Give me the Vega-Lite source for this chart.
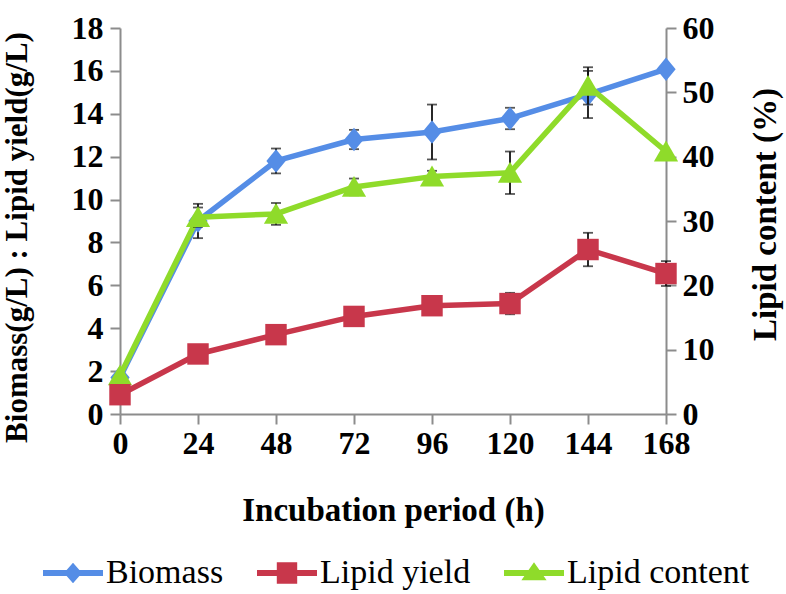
{
  "$schema": "https://vega.github.io/schema/vega-lite/v6.json",
  "width": 546,
  "height": 386,
  "autosize": {"type": "none"},
  "padding": {"left": 120, "top": 28, "right": 120, "bottom": 180},
  "background": "white",
  "data": {
    "values": [
      {"s": "Biomass", "t": 0, "v": 1.7, "err": null},
      {"s": "Biomass", "t": 24, "v": 9.0, "err": 0.8},
      {"s": "Biomass", "t": 48, "v": 11.8, "err": 0.58},
      {"s": "Biomass", "t": 72, "v": 12.8, "err": 0.45},
      {"s": "Biomass", "t": 96, "v": 13.15, "err": 1.28},
      {"s": "Biomass", "t": 120, "v": 13.78, "err": 0.5},
      {"s": "Biomass", "t": 144, "v": 14.9, "err": 1.1},
      {"s": "Biomass", "t": 168, "v": 16.08, "err": null},
      {"s": "Lipid yield", "t": 0, "v": 0.9, "err": null},
      {"s": "Lipid yield", "t": 24, "v": 2.8, "err": null},
      {"s": "Lipid yield", "t": 48, "v": 3.7, "err": null},
      {"s": "Lipid yield", "t": 72, "v": 4.55, "err": null},
      {"s": "Lipid yield", "t": 96, "v": 5.05, "err": 0.1},
      {"s": "Lipid yield", "t": 120, "v": 5.15, "err": 0.5},
      {"s": "Lipid yield", "t": 144, "v": 7.67, "err": 0.78},
      {"s": "Lipid yield", "t": 168, "v": 6.55, "err": 0.58},
      {"s": "Lipid content", "t": 0, "v": 6.0, "err": null},
      {"s": "Lipid content", "t": 24, "v": 30.6, "err": 1.5},
      {"s": "Lipid content", "t": 48, "v": 31.1, "err": 1.7},
      {"s": "Lipid content", "t": 72, "v": 35.3, "err": 1.3},
      {"s": "Lipid content", "t": 96, "v": 36.9, "err": 0.9},
      {"s": "Lipid content", "t": 120, "v": 37.5, "err": 3.3},
      {"s": "Lipid content", "t": 144, "v": 51.0, "err": 2.9},
      {"s": "Lipid content", "t": 168, "v": 40.8, "err": null}
    ]
  },
  "layer": [
    {
      "transform": [{"filter": "datum.s === 'Biomass'"}],
      "encoding": {
        "x": {"field": "t", "type": "quantitative", "scale": {"domain": [0, 168], "nice": false, "zero": false},
          "axis": {"title": "Incubation period (h)", "values": [0, 24, 48, 72, 96, 120, 144, 168], "labelPadding": 4, "labelFlush": false, "labelOverlap": false, "titleX": 273, "titleY": 96, "titleBaseline": "middle", "titleAlign": "center", "titleAngle": 0}},
        "y": {"field": "v", "type": "quantitative", "scale": {"domain": [0, 18], "nice": false},
          "axis": {"title": "Biomass(g/L) : Lipid yield(g/L)", "titleFontSize": 31, "orient": "left", "values": [0, 2, 4, 6, 8, 10, 12, 14, 16, 18], "labelPadding": 7, "labelFlush": false, "labelOverlap": false, "titleX": -103, "titleY": 209, "titleAngle": -90, "titleAlign": "center", "titleBaseline": "middle"}},
        "color": {"field": "s", "type": "nominal",
          "scale": {"domain": ["Biomass", "Lipid yield", "Lipid content"], "range": ["#558DE6", "#C8374B", "#8FDB2A"]},
          "legend": {"orient": "none", "legendX": -77, "legendY": 515, "direction": "horizontal", "title": null, "padding": 0, "symbolSize": 3600, "labelFont": "Liberation Serif", "labelFontSize": 34, "labelFontWeight": "normal", "labelColor": "#000000", "labelOffset": 3, "columnPadding": 33, "labelLimit": 400,
            "encode": {"symbols": {"update": {
              "shape": {"signal": "datum.value === 'Biomass' ? 'M-1,-0.1H1V0.1H-1Z M0,-0.34L0.3,0L0,0.34L-0.3,0Z' : datum.value === 'Lipid yield' ? 'M-1,-0.1H1V0.1H-1Z M-0.34,-0.36H0.34V0.36H-0.34Z' : 'M-1,-0.1H1V0.1H-1Z M0,-0.36L0.42,0.24L-0.42,0.24Z'"},
              "fill": {"signal": "datum.value === 'Biomass' ? '#558DE6' : datum.value === 'Lipid yield' ? '#C8374B' : '#8FDB2A'"},
              "stroke": {"value": "transparent"},
              "strokeWidth": {"value": 0},
              "opacity": {"value": 1}
            }}}}}
      },
      "layer": [
        {"mark": {"type": "line", "strokeWidth": 5.5, "strokeJoin": "round"}},
        {"transform": [{"filter": "datum.err > 0"}], "mark": {"type": "errorbar", "ticks": true, "size": 10, "thickness": 1.8}, "encoding": {"yError": {"field": "err"}, "color": {"value": "#111111"}}},
        {"mark": {"type": "point", "filled": true, "opacity": 1, "strokeWidth": 0, "shape": "M0,-1.1L0.9,0L0,1.1L-0.9,0Z", "size": 460}}
      ]
    },
    {
      "transform": [{"filter": "datum.s === 'Lipid content'"}],
      "encoding": {
        "x": {"field": "t", "type": "quantitative", "scale": {"domain": [0, 168], "nice": false, "zero": false},
          "axis": {"title": "Incubation period (h)", "values": [0, 24, 48, 72, 96, 120, 144, 168], "labelPadding": 4, "labelFlush": false, "labelOverlap": false, "titleX": 273, "titleY": 96, "titleBaseline": "middle", "titleAlign": "center", "titleAngle": 0}},
        "y": {"field": "v", "type": "quantitative", "scale": {"domain": [0, 60], "nice": false},
          "axis": {"title": "Lipid content (%)", "orient": "right", "values": [0, 10, 20, 30, 40, 50, 60], "labelPadding": 6, "labelFlush": false, "labelOverlap": false, "titleX": 99, "titleY": 186, "titleAngle": -90, "titleAlign": "center", "titleBaseline": "middle"}},
        "color": {"field": "s", "type": "nominal",
          "scale": {"domain": ["Biomass", "Lipid yield", "Lipid content"], "range": ["#558DE6", "#C8374B", "#8FDB2A"]},
          "legend": {"orient": "none", "legendX": -77, "legendY": 515, "direction": "horizontal", "title": null, "padding": 0, "symbolSize": 3600, "labelFont": "Liberation Serif", "labelFontSize": 34, "labelFontWeight": "normal", "labelColor": "#000000", "labelOffset": 3, "columnPadding": 33, "labelLimit": 400,
            "encode": {"symbols": {"update": {
              "shape": {"signal": "datum.value === 'Biomass' ? 'M-1,-0.1H1V0.1H-1Z M0,-0.34L0.3,0L0,0.34L-0.3,0Z' : datum.value === 'Lipid yield' ? 'M-1,-0.1H1V0.1H-1Z M-0.34,-0.36H0.34V0.36H-0.34Z' : 'M-1,-0.1H1V0.1H-1Z M0,-0.36L0.42,0.24L-0.42,0.24Z'"},
              "fill": {"signal": "datum.value === 'Biomass' ? '#558DE6' : datum.value === 'Lipid yield' ? '#C8374B' : '#8FDB2A'"},
              "stroke": {"value": "transparent"},
              "strokeWidth": {"value": 0},
              "opacity": {"value": 1}
            }}}}}
      },
      "layer": [
        {"mark": {"type": "line", "strokeWidth": 5.5, "strokeJoin": "round"}},
        {"transform": [{"filter": "datum.err > 0"}], "mark": {"type": "errorbar", "ticks": true, "size": 10, "thickness": 1.8}, "encoding": {"yError": {"field": "err"}, "color": {"value": "#111111"}}},
        {"mark": {"type": "point", "filled": true, "opacity": 1, "strokeWidth": 0, "shape": "M0,-1L1.1,0.9L-1.1,0.9Z", "size": 484}}
      ]
    },
    {
      "transform": [{"filter": "datum.s === 'Lipid yield'"}],
      "encoding": {
        "x": {"field": "t", "type": "quantitative", "scale": {"domain": [0, 168], "nice": false, "zero": false},
          "axis": {"title": "Incubation period (h)", "values": [0, 24, 48, 72, 96, 120, 144, 168], "labelPadding": 4, "labelFlush": false, "labelOverlap": false, "titleX": 273, "titleY": 96, "titleBaseline": "middle", "titleAlign": "center", "titleAngle": 0}},
        "y": {"field": "v", "type": "quantitative", "scale": {"domain": [0, 18], "nice": false}, "axis": null},
        "color": {"field": "s", "type": "nominal",
          "scale": {"domain": ["Biomass", "Lipid yield", "Lipid content"], "range": ["#558DE6", "#C8374B", "#8FDB2A"]},
          "legend": {"orient": "none", "legendX": -77, "legendY": 515, "direction": "horizontal", "title": null, "padding": 0, "symbolSize": 3600, "labelFont": "Liberation Serif", "labelFontSize": 34, "labelFontWeight": "normal", "labelColor": "#000000", "labelOffset": 3, "columnPadding": 33, "labelLimit": 400,
            "encode": {"symbols": {"update": {
              "shape": {"signal": "datum.value === 'Biomass' ? 'M-1,-0.1H1V0.1H-1Z M0,-0.34L0.3,0L0,0.34L-0.3,0Z' : datum.value === 'Lipid yield' ? 'M-1,-0.1H1V0.1H-1Z M-0.34,-0.36H0.34V0.36H-0.34Z' : 'M-1,-0.1H1V0.1H-1Z M0,-0.36L0.42,0.24L-0.42,0.24Z'"},
              "fill": {"signal": "datum.value === 'Biomass' ? '#558DE6' : datum.value === 'Lipid yield' ? '#C8374B' : '#8FDB2A'"},
              "stroke": {"value": "transparent"},
              "strokeWidth": {"value": 0},
              "opacity": {"value": 1}
            }}}}}
      },
      "layer": [
        {"mark": {"type": "line", "strokeWidth": 5.5, "strokeJoin": "round"}},
        {"transform": [{"filter": "datum.err > 0"}], "mark": {"type": "errorbar", "ticks": true, "size": 10, "thickness": 1.8}, "encoding": {"yError": {"field": "err"}, "color": {"value": "#111111"}}},
        {"mark": {"type": "point", "filled": true, "opacity": 1, "strokeWidth": 0, "shape": "square", "size": 460}}
      ]
    }
  ],
  "resolve": {"scale": {"y": "independent"}, "axis": {"y": "independent"}},
  "config": {
    "view": {"stroke": null},
    "axis": {"domainColor": "#8c8c8c", "domainWidth": 2, "tickColor": "#8c8c8c", "tickWidth": 2, "tickSize": 10, "grid": false,
      "labelFont": "Liberation Serif", "labelFontWeight": "bold", "labelFontSize": 32, "labelColor": "#000000",
      "titleFont": "Liberation Serif", "titleFontWeight": "bold", "titleFontSize": 33, "titleColor": "#000000"}
  }
}
